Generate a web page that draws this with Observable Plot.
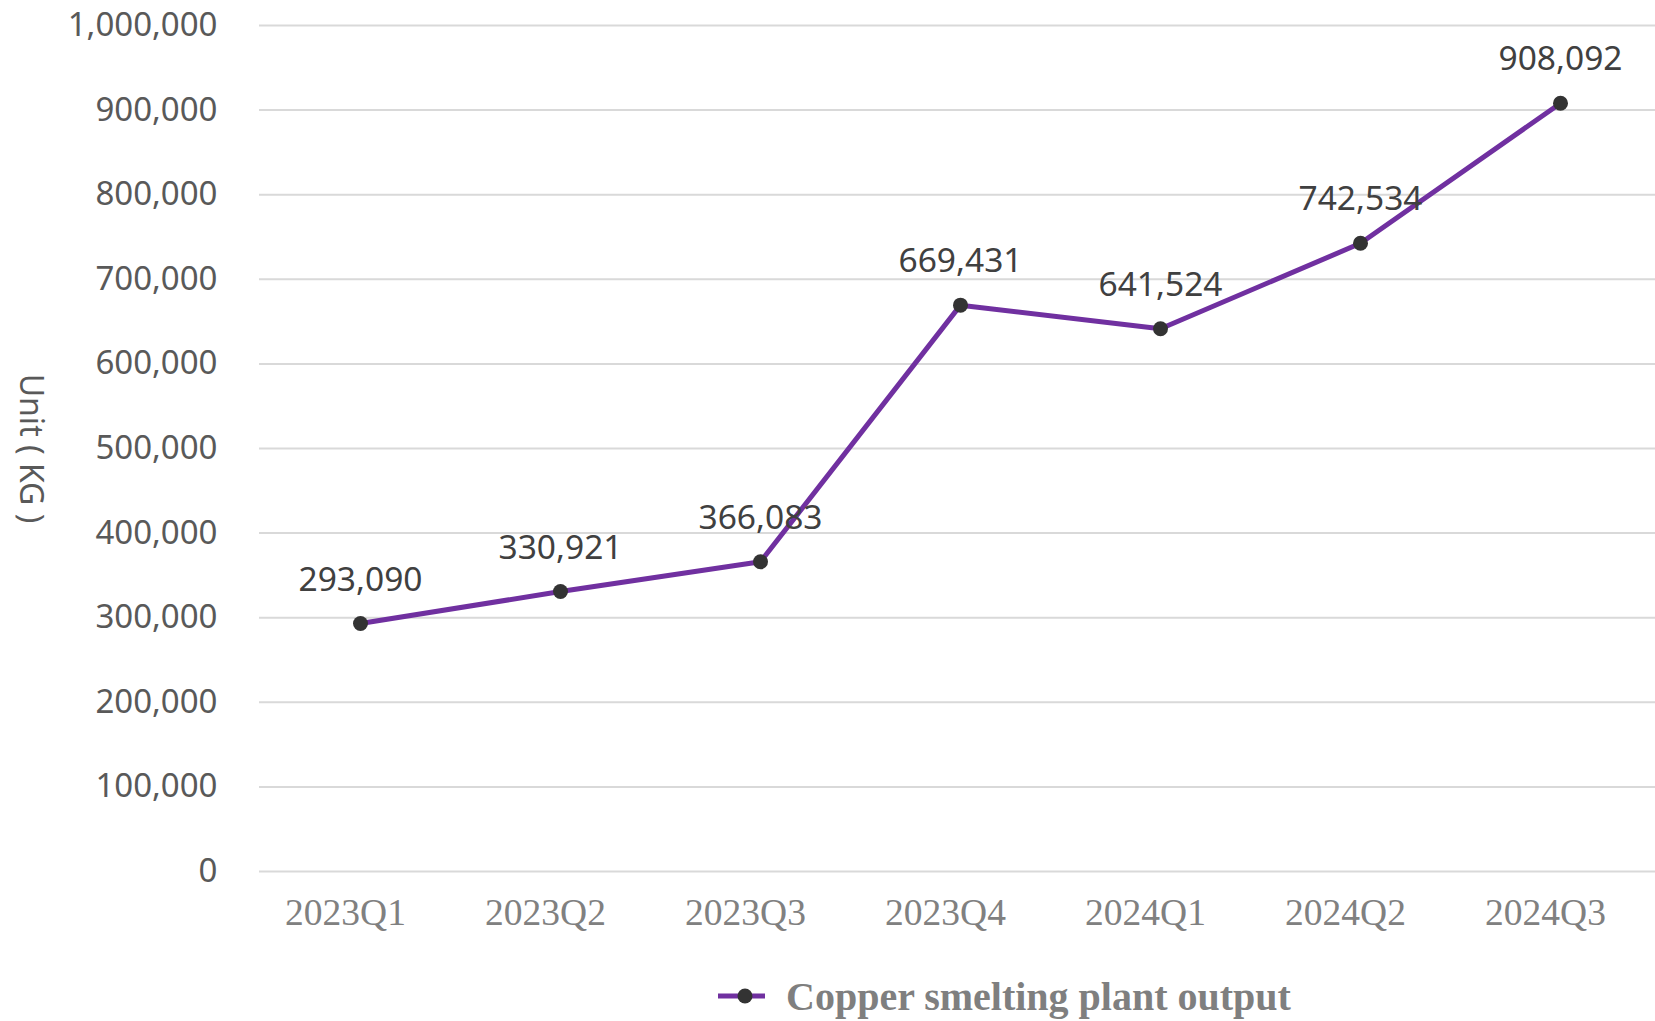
<!DOCTYPE html>
<html>
<head>
<meta charset="utf-8">
<script src="https://cdn.jsdelivr.net/npm/d3@7"></script>
<script src="https://cdn.jsdelivr.net/npm/@observablehq/plot@0.6"></script>
<style>
  html, body { margin: 0; padding: 0; background: #fff; }
  #wrap { position: relative; width: 1655px; height: 1021px; }
  #legend { position: absolute; left: 718px; top: 972px; height: 48px; display: flex; align-items: center;
            font-family: "Liberation Serif", "Times New Roman", serif; font-weight: bold; font-size: 40px; color: #7f7f7f; white-space: nowrap; }
  #legend svg { margin-right: 21px; }
</style>
</head>
<body>
<div id="wrap">
  <div id="chart"></div>
  <div id="legend"></div>
</div>
<script>
const quarters = ["2023Q1", "2023Q2", "2023Q3", "2023Q4", "2024Q1", "2024Q2", "2024Q3"];
const output = [293090, 330921, 366083, 669431, 641524, 742534, 908092];
const yTicks = [0, 100000, 200000, 300000, 400000, 500000, 600000, 700000, 800000, 900000, 1000000];
const seriesName = "Copper smelting plant output";
const yTitle = "Unit ( KG )";

const data = quarters.map((q, i) => ({quarter: q, value: output[i]}));
const fmt = d3.format(",");

const plot = Plot.plot({
  width: 1655,
  height: 950,
  marginLeft: 259,
  marginRight: 0,
  marginTop: 25,
  marginBottom: 79,
  x: {type: "point", domain: quarters, padding: 0.5, range: [257.5, 1662.5]},
  y: {domain: [0, 1000000]},
  marks: [
    Plot.gridY(yTicks, {stroke: "#d9d9d9", strokeOpacity: 1, strokeWidth: 2}),
    Plot.axisY(yTicks, {tickSize: 0, tickPadding: 42, tickFormat: fmt, fontSize: 33, fill: "#595959",
      fontFamily: "Noto Sans", label: null}),
    Plot.axisX({tickSize: 0, tickPadding: 27, fontSize: 37.5, fill: "#808080", dx: -15,
      fontFamily: "Liberation Serif", label: null}),
    Plot.text([yTitle], {frameAnchor: "left", dx: -229, rotate: 90, fontSize: 32, fill: "#595959",
      fontFamily: "Noto Sans", textAnchor: "middle", lineAnchor: "middle"}),
    Plot.line(data, {x: "quarter", y: "value", stroke: "#7030A0", strokeWidth: 5}),
    Plot.dot(data, {x: "quarter", y: "value", r: 7.5, fill: "#333333", stroke: "none"}),
    Plot.text(data, {x: "quarter", y: "value", text: d => fmt(d.value), dy: -33, lineAnchor: "bottom",
      textAnchor: "middle", fontSize: 33.5, fill: "#404040", fontFamily: "Noto Sans"})
  ]
});
document.getElementById("chart").appendChild(plot);

const legend = document.getElementById("legend");
const sw = d3.create("svg").attr("width", 47).attr("height", 20);
sw.append("line").attr("x1", 0).attr("x2", 47).attr("y1", 10).attr("y2", 10)
  .attr("stroke", "#7030A0").attr("stroke-width", 5);
sw.append("circle").attr("cx", 27).attr("cy", 10).attr("r", 7.5).attr("fill", "#333333");
legend.appendChild(sw.node());
const span = document.createElement("span");
span.textContent = seriesName;
legend.appendChild(span);
</script>
</body>
</html>
